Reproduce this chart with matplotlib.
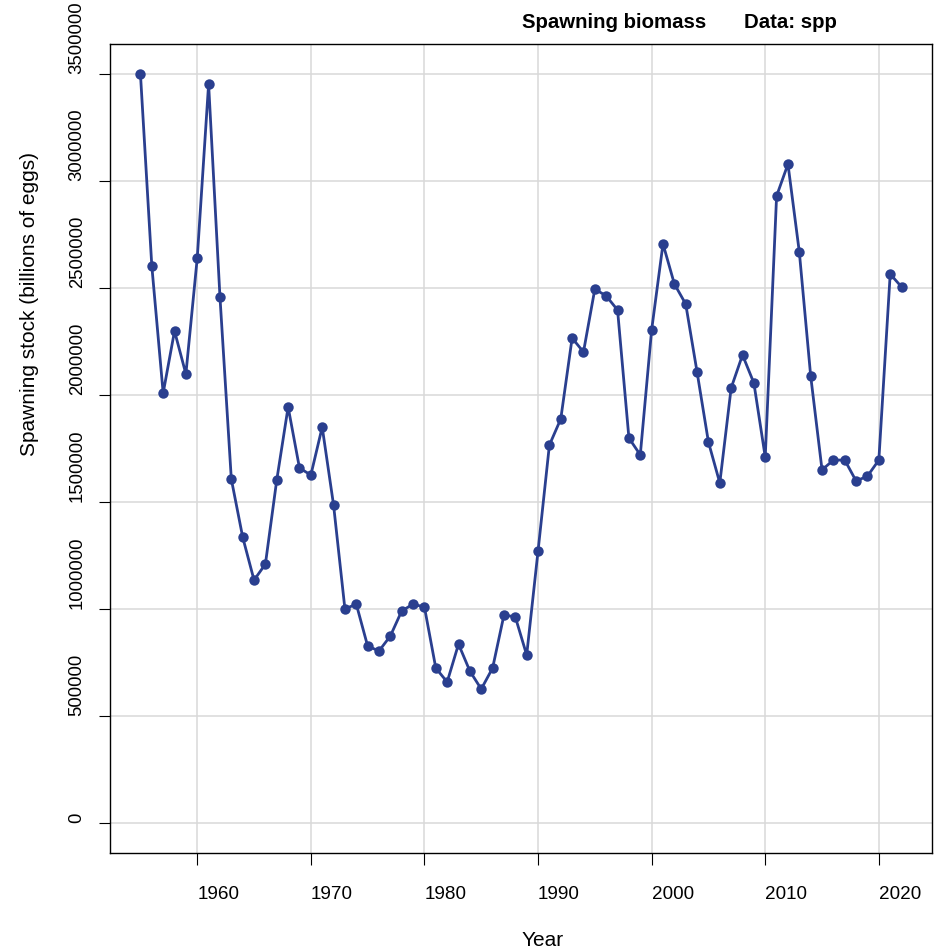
import matplotlib
matplotlib.use("Agg")
import matplotlib.pyplot as plt

plt.rcParams["font.family"] = ["Liberation Sans", "DejaVu Sans"]

years = list(range(1955, 2023))
ssb = [
    3500000, 2603000, 2009000, 2299000, 2098000, 2640000, 3453000, 2458000,
    1607000, 1336000, 1135000, 1210000, 1603000, 1944000, 1659000, 1626000,
    1850000, 1486000, 1000000, 1023000, 827000, 804000, 874000, 991000,
    1023000, 1009000, 724000, 659000, 836000, 710000, 626000, 724000,
    972000, 963000, 785000, 1271000, 1766000, 1888000, 2266000, 2201000,
    2495000, 2463000, 2397000, 1799000, 1720000, 2304000, 2706000, 2519000,
    2425000, 2107000, 1780000, 1589000, 2033000, 2187000, 2056000, 1710000,
    2930000, 3079000, 2668000, 2089000, 1650000, 1696000, 1696000, 1598000,
    1621000, 1696000, 2565000, 2505000,
]
x_ticks = [1960, 1970, 1980, 1990, 2000, 2010, 2020]
y_ticks = [0, 500000, 1000000, 1500000, 2000000, 2500000, 3000000, 3500000]

W, H = 936, 951
fig = plt.figure(figsize=(W / 100, H / 100), dpi=100)
ax = fig.add_axes([110 / W, 1 - 853 / H, 822 / W, 809 / H])

line_col = "#2a3f8f"
ax.plot(years, ssb, color=line_col, lw=2.0, marker="o", ms=7.5,
        markeredgewidth=0, zorder=3)

# R-style 4% padding
xr = years[-1] - years[0]
ax.set_xlim(years[0] - 0.04 * xr, years[-1] + 0.04 * xr)
yr = max(ssb) - 0
ax.set_ylim(0 - 0.04 * yr, max(ssb) + 0.04 * yr)

ax.set_xticks(x_ticks)
ax.set_yticks(y_ticks)
ax.set_xticklabels([str(t) for t in x_ticks])
ax.set_yticklabels([str(t) for t in y_ticks])
ax.grid(True, color="#d9d9d9", lw=1.1, zorder=0)
ax.set_axisbelow(True)

ax.tick_params(axis="x", length=8.6, width=0.8, pad=15.5, labelsize=13.6)
ax.tick_params(axis="y", length=8, width=0.8, pad=9.5, labelsize=13.3)
for lab in ax.get_xticklabels():
    lab.set_ha("left")
for lab in ax.get_yticklabels():
    lab.set_rotation(90)
    lab.set_va("bottom")
    lab.set_ha("right")

for s in ax.spines.values():
    s.set_linewidth(1.0)
    s.set_color("black")

fig.text(30 / W, 1 - 456 / H, "Spawning stock (billions of eggs)",
         rotation=90, ha="center", va="bottom", fontsize=15)
fig.text(522 / W, 1 - 940 / H, "Year", ha="left", va="center", fontsize=15)
fig.text(522 / W, 1 - 22 / H, "Spawning biomass", ha="left", va="center",
         fontsize=14.7, fontweight="bold")
fig.text(744 / W, 1 - 22 / H, "Data: spp", ha="left", va="center",
         fontsize=14.7, fontweight="bold")

fig.savefig("out.png", dpi=100)
